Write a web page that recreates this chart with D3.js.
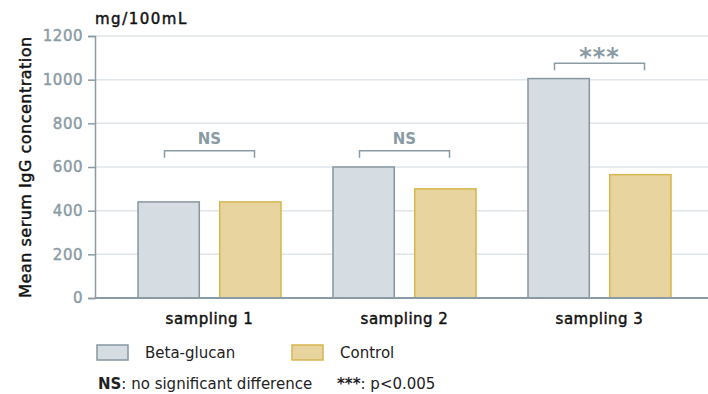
<!DOCTYPE html>
<html><head><meta charset="utf-8">
<script src="https://cdn.jsdelivr.net/npm/d3@7/dist/d3.min.js"></script>
<style>body{margin:0;background:#fff;} svg text{font-family:"DejaVu Sans",sans-serif;}</style>
</head><body>
<svg id="c" width="708" height="394"></svg>
<script>
const categories = ["sampling 1", "sampling 2", "sampling 3"];
const series = ["Beta-glucan", "Control"];
const betaGlucan = [440, 600, 1005];
const control = [440, 500, 565];
const yTicks = [0, 200, 400, 600, 800, 1000, 1200];
const sigLabels = ["NS", "NS", "***"];
const sigLevels = [675, 675, 1075];

const svg = d3.select("#c");
const x0 = 95, x1 = 708, yTop = 36, yBot = 298;
const y = d3.scaleLinear().domain([0, 1200]).range([yBot, yTop]);
const xb = d3.scaleBand().domain(categories).range([112, 697]);
const xs = d3.scaleBand().domain(series).range([0, 143]).paddingInner(0.25);
const gray = "#8a9ba5";
const medium = sel => sel.attr("stroke", function(){ return d3.select(this).attr("fill"); })
  .attr("stroke-width", 0.45).attr("paint-order", "stroke");

// grid
svg.append("g").selectAll("line").data(yTicks.filter(d => d > 0)).join("line")
  .attr("x1", x0).attr("x2", x1).attr("y1", d => y(d)).attr("y2", d => y(d))
  .attr("stroke", "#dfe5e8").attr("stroke-width", 1.5);

// y axis
const ya = svg.append("g").attr("transform", `translate(${x0},0)`)
  .call(d3.axisLeft(y).tickValues(yTicks).tickFormat(d3.format("d")).tickSize(7).tickPadding(5));
ya.select(".domain").attr("stroke", gray).attr("stroke-width", 1.5);
ya.selectAll(".tick line").attr("stroke", gray).attr("stroke-width", 1.5);
ya.selectAll(".tick text").attr("fill", gray).attr("font-size", 15).attr("letter-spacing", 0.5)
  .style("font-family", "'DejaVu Sans',sans-serif").call(medium);

// bars
const groups = svg.append("g").selectAll("g").data(categories).join("g")
  .attr("transform", d => `translate(${xb(d) + (xb.bandwidth() - 143) / 2},0)`);
const fills = {"Beta-glucan": "#d5dce2", "Control": "#e8d49e"};
const strokes = {"Beta-glucan": "#8797a1", "Control": "#d6b64f"};
groups.selectAll("rect").data((d, i) => [
  {s: "Beta-glucan", v: betaGlucan[i]}, {s: "Control", v: control[i]}]).join("rect")
  .attr("x", d => xs(d.s)).attr("width", xs.bandwidth())
  .attr("y", d => y(d.v)).attr("height", d => yBot - y(d.v))
  .attr("fill", d => fills[d.s]).attr("stroke", d => strokes[d.s]).attr("stroke-width", 1.5);

// x axis line
svg.append("line").attr("x1", x0).attr("x2", x1).attr("y1", yBot).attr("y2", yBot)
  .attr("stroke", gray).attr("stroke-width", 2);

// x labels
svg.append("g").selectAll("text").data(categories).join("text")
  .attr("x", d => xb(d) + xb.bandwidth() / 2).attr("y", 324)
  .attr("text-anchor", "middle").attr("font-size", 15).attr("letter-spacing", 0.5)
  .attr("fill", "#111").text(d => d).call(medium);

// significance brackets
categories.forEach((c, i) => {
  const cx = xb(c) + xb.bandwidth() / 2;
  const yy = y(sigLevels[i]);
  svg.append("path").attr("d", `M${cx - 45},${yy + 7}V${yy}H${cx + 45}V${yy + 7}`)
    .attr("fill", "none").attr("stroke", gray).attr("stroke-width", 1.5);
  svg.append("text").attr("x", cx).attr("y", sigLabels[i] === "***" ? yy + 2 : yy - 7)
    .attr("text-anchor", "middle").attr("fill", gray).attr("font-weight", 700)
    .attr("font-size", sigLabels[i] === "***" ? 24 : 15)
    .attr("letter-spacing", sigLabels[i] === "***" ? 1 : 0)
    .text(sigLabels[i]);
});

// axis titles
svg.append("text").attr("x", 95).attr("y", 24).attr("font-size", 15).attr("letter-spacing", 1.5)
  .attr("fill", "#111").text("mg/100mL").call(medium);
svg.append("text").attr("transform", "translate(31,167) rotate(-90)").attr("text-anchor", "middle")
  .attr("font-size", 16).attr("letter-spacing", 0.5).attr("fill", "#111")
  .text("Mean serum IgG concentration").call(medium);

// legend
const leg = [{s: "Beta-glucan", x: 97}, {s: "Control", x: 292}];
leg.forEach(l => {
  svg.append("rect").attr("x", l.x).attr("y", 345).attr("width", 31).attr("height", 15)
    .attr("fill", fills[l.s]).attr("stroke", strokes[l.s]).attr("stroke-width", 1.5);
  svg.append("text").attr("x", l.x + 48).attr("y", 358).attr("font-size", 15).attr("fill", "#222").text(l.s);
});

// footnote
const fn = svg.append("text").attr("x", 98).attr("y", 389).attr("font-size", 15).attr("fill", "#222");
fn.append("tspan").attr("font-weight", 700).text("NS");
fn.append("tspan").text(": no significant difference");
const fn2 = svg.append("text").attr("x", 337).attr("y", 389).attr("font-size", 15).attr("fill", "#222");
fn2.append("tspan").attr("font-weight", 700).text("***");
fn2.append("tspan").text(": p<0.005");
</script>
</body></html>
